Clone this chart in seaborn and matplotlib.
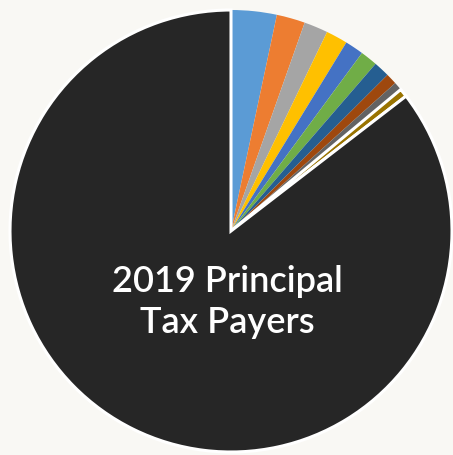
import matplotlib
matplotlib.use("Agg")
import matplotlib.pyplot as plt
import seaborn as sns

# Share of total assessed value held by the principal tax payers (percent)
payers = ["Payer 1", "Payer 2", "Payer 3", "Payer 4", "Payer 5",
          "Payer 6", "Payer 7", "Payer 8", "Payer 9", "Payer 10", "All Others"]
shares = [3.33, 2.08, 1.75, 1.58, 1.36, 1.25, 1.17, 0.81, 0.61, 0.61, 85.45]
colors = ["#5B9BD5", "#ED7D31", "#A5A5A5", "#FFC000", "#4472C4",
          "#70AD47", "#255E91", "#9E480E", "#636363", "#997300", "#262626"]
title_lines = ["2019 Principal", "Tax Payers"]

sns.set_theme(style="white")
plt.rcParams["font.family"] = ["Lato", "DejaVu Sans"]

W, H = 453, 455
fig = plt.figure(figsize=(W / 100, H / 100), dpi=100)
fig.patch.set_facecolor("#f9f8f4")

cx, cy, r = 231, 231, 221
ax = fig.add_axes([(cx - r) / W, (H - cy - r) / H, 2 * r / W, 2 * r / H])
ax.set_facecolor("none")

wedges, _ = ax.pie(shares, colors=colors, startangle=90, counterclock=False,
                   radius=1.0, wedgeprops=dict(linewidth=0))
# white separators around the last payer and the "all others" slice
for w in wedges[-2:]:
    w.set_edgecolor("white")
    w.set_linewidth(2.2)

ax.set_xlim(-1, 1)
ax.set_ylim(-1, 1)
ax.set_aspect("auto")
ax.axis("off")

baselines = [(cy - 292) / r, (cy - 333) / r]
for line, yb in zip(title_lines, baselines):
    ax.text(-0.018, yb, line, color="white", fontsize=26,
            fontweight="semibold", ha="center", va="baseline")

fig.savefig("out.png", dpi=100, facecolor=fig.get_facecolor())
